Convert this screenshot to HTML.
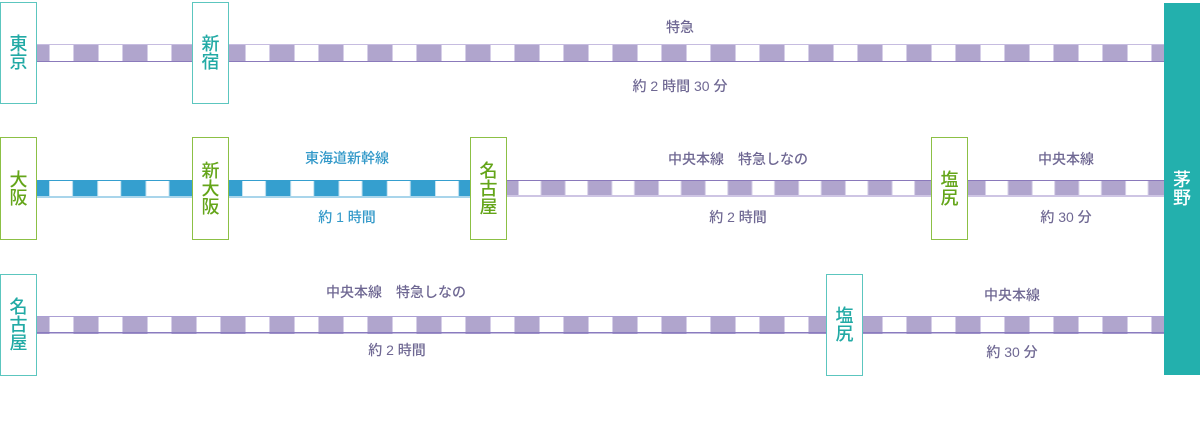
<!DOCTYPE html>
<html><head><meta charset="utf-8">
<style>
html,body{margin:0;padding:0;background:#fff;}
body{width:1200px;height:432px;position:relative;overflow:hidden;font-family:"Liberation Sans","Noto Sans CJK JP",sans-serif;}
svg{position:absolute;left:0;top:0;}
.box{position:absolute;box-sizing:border-box;border:1px solid #5cc6bf;background:#fff;display:flex;align-items:center;justify-content:center;text-align:center;font-size:18px;line-height:18px;color:#22aaa5;width:37px;font-weight:500;}
.g{border-color:#8cc045;color:#64a519;}
.lb{position:absolute;transform:translate(-50%,-50%);white-space:nowrap;font-size:14px;line-height:1;color:#6f6893;font-weight:500;}
.bl{color:#3399c9;}
.end{position:absolute;left:1164px;top:3px;width:36px;height:372px;background:#23b0ad;color:#fff;display:flex;align-items:center;justify-content:center;text-align:center;font-size:18px;line-height:18px;font-weight:500;}
</style></head><body>
<svg width="1200" height="432" viewBox="0 0 1200 432">
<defs>
<pattern id="p49" patternUnits="userSpaceOnUse" x="0" y="0" width="49" height="432">
<rect x="0" y="0" width="49" height="432" fill="#b0a5cd"/>
<rect x="0" y="0" width="25" height="432" fill="#d6cfe8"/>
<rect x="1" y="0" width="23" height="432" fill="#fff"/>
</pattern>
<pattern id="pb" patternUnits="userSpaceOnUse" x="49" y="0" width="48.25" height="432">
<rect x="0" y="0" width="48.25" height="432" fill="#359fcf"/>
<rect x="0" y="0" width="24" height="432" fill="#c3e2f1"/>
<rect x="1" y="0" width="22" height="432" fill="#fff"/>
</pattern>
<pattern id="pp" patternUnits="userSpaceOnUse" x="518" y="0" width="46.7" height="432">
<rect x="0" y="0" width="46.7" height="432" fill="#b0a5cd"/>
<rect x="0" y="0" width="23.5" height="432" fill="#d6cfe8"/>
<rect x="1" y="0" width="21.5" height="432" fill="#fff"/>
</pattern>
</defs>
<!-- row 1 -->
<rect x="0" y="44" width="1164" height="18" fill="url(#p49)"/>
<rect x="0" y="44" width="1164" height="1" fill="#c6bce0"/>
<rect x="0" y="61" width="1164" height="1" fill="#8b7abb"/>
<!-- row 2 blue -->
<rect x="36" y="180" width="434" height="18" fill="url(#pb)"/>
<rect x="36" y="180" width="434" height="1" fill="#359fcf"/>
<rect x="36" y="196" width="434" height="2" fill="#a9d5eb"/>
<!-- row 2 purple -->
<rect x="506" y="180" width="658" height="17" fill="url(#pp)"/>
<rect x="506" y="180" width="658" height="1" fill="#8a79bb"/>
<rect x="506" y="195" width="658" height="2" fill="#cec5e4"/>
<!-- row 3 -->
<rect x="0" y="316" width="1164" height="18" fill="url(#p49)"/>
<rect x="0" y="316" width="1164" height="1" fill="#ab9fd4"/>
<rect x="0" y="332" width="1164" height="1.5" fill="#8a7bbf"/>
</svg>

<!-- row 1 boxes -->
<div class="box" style="left:0;top:2px;height:102px;">東<br>京</div>
<div class="box" style="left:192px;top:2px;height:102px;">新<br>宿</div>

<!-- row 2 boxes -->
<div class="box g" style="left:0;top:137px;height:103px;">大<br>阪</div>
<div class="box g" style="left:192px;top:137px;height:103px;">新<br>大<br>阪</div>
<div class="box g" style="left:470px;top:137px;height:103px;">名<br>古<br>屋</div>
<div class="box g" style="left:931px;top:137px;height:103px;">塩<br>尻</div>

<!-- row 3 boxes -->
<div class="box" style="left:0;top:274px;height:102px;">名<br>古<br>屋</div>
<div class="box" style="left:826px;top:274px;height:102px;">塩<br>尻</div>

<div class="end">茅<br>野</div>

<!-- labels row 1 -->
<div class="lb" style="left:680px;top:27px;">特急</div>
<div class="lb" style="left:680px;top:86px;">約 2 時間 30 分</div>

<!-- labels row 2 -->
<div class="lb bl" style="left:347px;top:158px;">東海道新幹線</div>
<div class="lb bl" style="left:347px;top:217px;">約 1 時間</div>
<div class="lb" style="left:738px;top:159px;">中央本線　特急しなの</div>
<div class="lb" style="left:738px;top:217px;">約 2 時間</div>
<div class="lb" style="left:1066px;top:159px;">中央本線</div>
<div class="lb" style="left:1066px;top:217px;">約 30 分</div>

<!-- labels row 3 -->
<div class="lb" style="left:396px;top:292px;">中央本線　特急しなの</div>
<div class="lb" style="left:397px;top:350px;">約 2 時間</div>
<div class="lb" style="left:1012px;top:295px;">中央本線</div>
<div class="lb" style="left:1012px;top:352px;">約 30 分</div>
</body></html>
